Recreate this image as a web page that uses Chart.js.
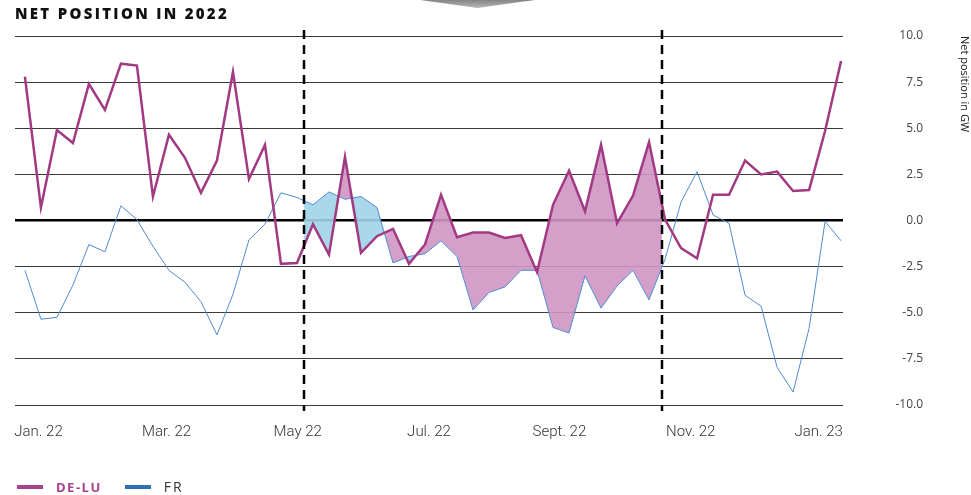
<!DOCTYPE html>
<html>
<head>
<meta charset="utf-8">
<script src="https://cdn.jsdelivr.net/npm/chart.js@4.4.1/dist/chart.umd.min.js"></script>
<style>
  html, body { margin: 0; padding: 0; background: #fff; }
  #wrap { position: relative; width: 971px; height: 495px; overflow: hidden; }
  #chart { position: absolute; left: 0; top: 0; }
  .title { position: absolute; left: 15px; top: 6px; font: 800 15px/15px "Open Sans", sans-serif; letter-spacing: 2.3px; color: #111; }
  .tab { position: absolute; left: 420px; top: 0; width: 115px; height: 8px; background: linear-gradient(#858585, #b8b8b8); clip-path: polygon(0 0, 100% 0, 50% 100%); }
  .legend { position: absolute; left: 17px; top: 477px; display: flex; align-items: center; font-family: "Open Sans", sans-serif; }
  .legend .item { display: flex; align-items: center; margin-right: 23px; }
  .legend .mark { width: 26px; height: 4px; margin-right: 13px; }
  .legend .de { color: #a5448c; font-weight: 700; font-size: 13px; letter-spacing: 1.5px; }
  .legend .fr { color: #333; font-size: 14px; letter-spacing: 2px; }
</style>
</head>
<body>
<div id="wrap">
  <canvas id="chart" width="971" height="495"></canvas>
  <div class="tab"></div>
  <div class="title">NET POSITION IN 2022</div>
  <div class="legend">
    <div class="item"><span class="mark" style="background:#a5448c"></span><span class="de">DE-LU</span></div>
    <div class="item"><span class="mark" style="background:#2f6fb5"></span><span class="fr">FR</span></div>
  </div>
</div>
<script>
// weekly points, Jan 2022 -> Jan 2023
const weeks = [0, 1, 2, 3, 4, 5, 6, 7, 8, 9, 10, 11, 12, 13, 14, 15, 16, 17, 18, 19, 20, 21, 22, 23, 24, 25,
  26, 27, 28, 29, 30, 31, 32, 33, 34, 35, 36, 37, 38, 39, 40, 41, 42, 43, 44, 45, 46, 47, 48, 49, 50, 51];

const deLu = [7.8, 0.7, 4.9, 4.2, 7.4, 6.0, 8.5, 8.4, 1.3, 4.65, 3.4, 1.5, 3.25, 8.05, 2.25, 4.1,
  -2.35, -2.3, -0.2, -1.85, 3.45, -1.75, -0.85, -0.45, -2.35, -1.3, 1.4, -0.9, -0.65, -0.65, -0.95, -0.8,
  -2.8, 0.85, 2.7, 0.5, 4.1, -0.15, 1.35, 4.25, 0.05, -1.5, -2.05, 1.4, 1.4, 3.25, 2.5, 2.65, 1.6, 1.65, 4.85, 8.65];

const fr = [-2.7, -5.35, -5.25, -3.5, -1.3, -1.7, 0.8, 0.05, -1.4, -2.7, -3.35, -4.4, -6.2, -4.0, -1.05, -0.2,
  1.5, 1.25, 0.85, 1.55, 1.15, 1.3, 0.7, -2.3, -1.95, -1.8, -1.1, -1.95, -4.85, -3.9, -3.6, -2.7,
  -2.7, -5.8, -6.1, -3.0, -4.75, -3.55, -2.7, -4.3, -2.1, 1.0, 2.65, 0.3, -0.15, -4.05, -4.65, -7.95, -9.3, -5.85, -0.05, -1.1];

const tickLabels = ['Jan. 22', 'Mar. 22', 'May 22', 'Jul. 22', 'Sept. 22', 'Nov. 22', 'Jan. 23'];
const tickWeeks = [0.85, 8.85, 17.05, 25.25, 33.4, 41.6, 49.6];

// start / end of the highlighted period (in weeks)
const periodBounds = [17.45, 39.8];

const FILL_INDEX = 2;

const periodPlugin = {
  id: 'periodPlugin',
  beforeDatasetsDraw(chart) {
    const {ctx, chartArea, scales} = chart;
    const x0 = scales.x.getPixelForValue(periodBounds[0]);
    const x1 = scales.x.getPixelForValue(periodBounds[1]);
    ctx.save();
    ctx.beginPath();
    ctx.rect(x0, chartArea.top, x1 - x0, chartArea.bottom - chartArea.top);
    ctx.clip();
  },
  afterDatasetDraw(chart, args) {
    if (args.index === FILL_INDEX) chart.ctx.restore();
  },
  afterDatasetsDraw(chart) {
    const {ctx, chartArea, scales} = chart;
    ctx.save();
    ctx.strokeStyle = '#000';
    ctx.lineWidth = 2.5;
    ctx.setLineDash([9, 6]);
    periodBounds.forEach(b => {
      const px = Math.round(scales.x.getPixelForValue(b));
      ctx.beginPath();
      ctx.moveTo(px, chartArea.top - 6);
      ctx.lineTo(px, chartArea.bottom + 6);
      ctx.stroke();
    });
    ctx.restore();
  }
};

const pts = arr => weeks.map((w, i) => ({x: w, y: arr[i]}));

new Chart(document.getElementById('chart'), {
  type: 'line',
  data: {
    datasets: [
      {
        label: 'DE-LU',
        data: pts(deLu),
        borderColor: '#a13a83',
        borderWidth: 2.5,
        pointRadius: 0,
        tension: 0,
        fill: false,
        order: 0
      },
      {
        label: 'FR',
        data: pts(fr),
        borderColor: '#4d8bd1',
        borderWidth: 1,
        pointRadius: 0,
        tension: 0,
        fill: false,
        order: 1
      },
      {
        label: 'spread',
        data: pts(deLu),
        borderColor: 'transparent',
        borderWidth: 0,
        pointRadius: 0,
        tension: 0,
        fill: {target: 1, above: 'rgba(207,149,194,0.9)', below: 'rgba(158,212,232,0.9)'},
        order: 2
      }
    ]
  },
  options: {
    responsive: false,
    animation: false,
    layout: {padding: {left: 15, top: 36, right: 48, bottom: 50}},
    plugins: {
      legend: {display: false},
      tooltip: {enabled: false}
    },
    scales: {
      x: {
        type: 'linear',
        min: -0.62,
        max: 51.12,
        afterFit(s) { s.height = 40; },
        afterBuildTicks(s) { s.ticks = tickWeeks.map(v => ({value: v})); },
        grid: {display: false},
        border: {display: false},
        ticks: {
          autoSkip: false,
          maxRotation: 0,
          padding: 10,
          color: '#333',
          font: {family: 'Roboto', weight: '300', size: 15},
          callback: (v, i) => tickLabels[i]
        }
      },
      y: {
        position: 'right',
        min: -10,
        max: 10,
        afterFit(s) { s.width = 80; },
        border: {display: false},
        grid: {
          drawTicks: false,
          color: c => c.tick.value === 0 ? '#000' : '#3a3a3a',
          lineWidth: c => c.tick.value === 0 ? 2.5 : 1
        },
        ticks: {
          stepSize: 2.5,
          crossAlign: 'far',
          padding: 0,
          color: '#444',
          font: {family: 'Open Sans', size: 12},
          callback: v => v.toFixed(1)
        },
        title: {
          display: true,
          text: 'Net position in GW',
          align: 'end',
          color: '#1a1a1a',
          font: {family: 'Open Sans', size: 11},
          padding: {top: -48, bottom: 0}
        }
      }
    }
  },
  plugins: [periodPlugin]
});
</script>
</body>
</html>
